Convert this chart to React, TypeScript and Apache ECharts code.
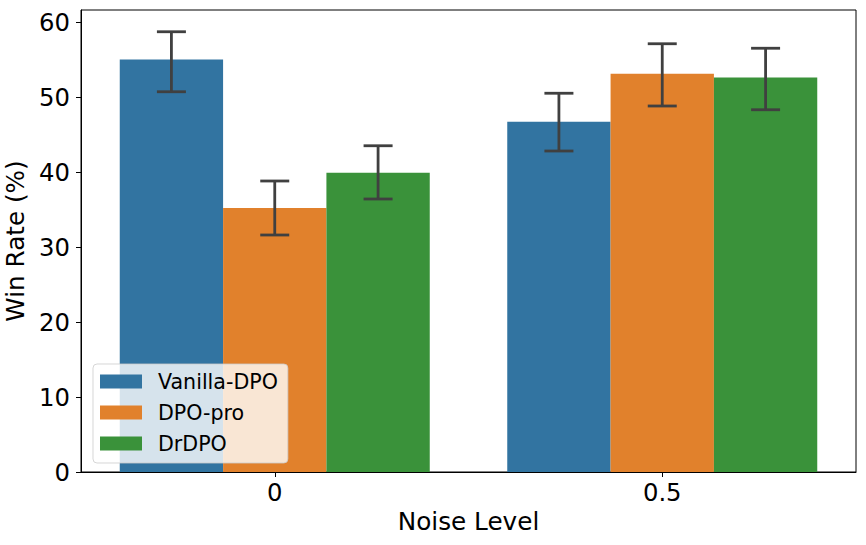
import React, { useEffect, useRef } from "react";
import * as echarts from "echarts";

const categories = ["0", "0.5"];
const seriesNames = ["Vanilla-DPO", "DPO-pro", "DrDPO"];
const vanillaValues = [55.0, 46.7];
const dpoProValues = [35.2, 53.1];
const drdpoValues = [39.9, 52.6];
const vanillaErr = [[50.7, 58.7], [42.8, 50.5]];
const dpoProErr = [[31.6, 38.8], [48.8, 57.1]];
const drdpoErr = [[36.4, 43.5], [48.3, 56.5]];
const yTicks = [0, 10, 20, 30, 40, 50, 60];
const colors = ["#3274a1", "#e1812c", "#3a923a"];

export default function App() {
  const ref = useRef<HTMLDivElement>(null);
  useEffect(() => {
    document.body.style.margin = "0";
    if (!ref.current) return;
    const chart = echarts.init(ref.current, null, { renderer: "svg" });
    const values = [vanillaValues, dpoProValues, drdpoValues];
    const errs = [vanillaErr, dpoProErr, drdpoErr];
    const font = "DejaVu Sans";
    const barSeries = seriesNames.map((n, i) => ({
      name: n,
      type: "bar",
      data: values[i],
      barGap: "0%",
      barCategoryGap: "20%",
      itemStyle: { color: colors[i] },
      z: 2,
    }));
    const errSeries = errs.map((e, s) => ({
      name: "err" + s,
      type: "custom",
      z: 3,
      data: e.map((d, i) => [i, d[0], d[1]]),
      renderItem: (params: any, api: any) => {
        const ci = api.value(0);
        const x = api.coord([ci, 0])[0];
        const bw = api.size([1, 0])[0];
        const barW = (bw * 0.8) / 3;
        const cx = x + (s - 1) * barW;
        const yl = api.coord([ci, api.value(1)])[1];
        const yh = api.coord([ci, api.value(2)])[1];
        const hw = 14.5;
        const st = { stroke: "#404040", lineWidth: 2.8 };
        return {
          type: "group",
          children: [
            { type: "line", shape: { x1: cx, y1: yl, x2: cx, y2: yh }, style: st },
            { type: "line", shape: { x1: cx - hw, y1: yl, x2: cx + hw, y2: yl }, style: st },
            { type: "line", shape: { x1: cx - hw, y1: yh, x2: cx + hw, y2: yh }, style: st },
          ],
        };
      },
    }));
    chart.setOption({
      animation: false,
      textStyle: { fontFamily: font },
      grid: {
        left: 81,
        top: 10,
        right: 10,
        bottom: 73,
        show: true,
        borderColor: "#000",
        borderWidth: 1,
        containLabel: false,
        outerBoundsMode: "none",
      },
      legend: {
        data: seriesNames,
        orient: "vertical",
        left: 93,
        top: 364,
        itemWidth: 42,
        itemHeight: 14,
        itemGap: 10,
        padding: [7, 10, 9, 7],
        backgroundColor: "rgba(255,255,255,0.8)",
        borderColor: "rgba(204,204,204,0.8)",
        borderWidth: 1,
        borderRadius: 4,
        icon: "rect",
        textStyle: {
          fontFamily: font,
          fontSize: 20.6,
          color: "#000",
          lineHeight: 20,
          padding: [0, 0, 0, 11],
        },
      },
      xAxis: {
        type: "category",
        data: categories,
        name: "Noise Level",
        nameLocation: "middle",
        nameGap: 37,
        nameTextStyle: { fontFamily: font, fontSize: 24.7, color: "#000" },
        axisLine: { show: true, lineStyle: { color: "#000", width: 1 } },
        axisTick: { show: true, alignWithLabel: true, length: 5, lineStyle: { color: "#000" } },
        axisLabel: { fontFamily: font, fontSize: 24.3, color: "#000", margin: 8 },
        splitLine: { show: false },
      },
      yAxis: {
        type: "value",
        min: 0,
        max: 61.6,
        interval: 10,
        name: "Win Rate (%)",
        nameLocation: "middle",
        nameGap: 46,
        nameTextStyle: { fontFamily: font, fontSize: 24.7, color: "#000" },
        axisLine: { show: true, lineStyle: { color: "#000", width: 1 } },
        axisTick: { show: true, length: 5, lineStyle: { color: "#000" }, customValues: yTicks },
        axisLabel: { fontFamily: font, fontSize: 24.3, color: "#000", margin: 11, customValues: yTicks },
        splitLine: { show: false },
      },
      series: [...barSeries, ...errSeries],
    });
    return () => chart.dispose();
  }, []);
  return <div ref={ref} style={{ width: 866, height: 545 }} />;
}
